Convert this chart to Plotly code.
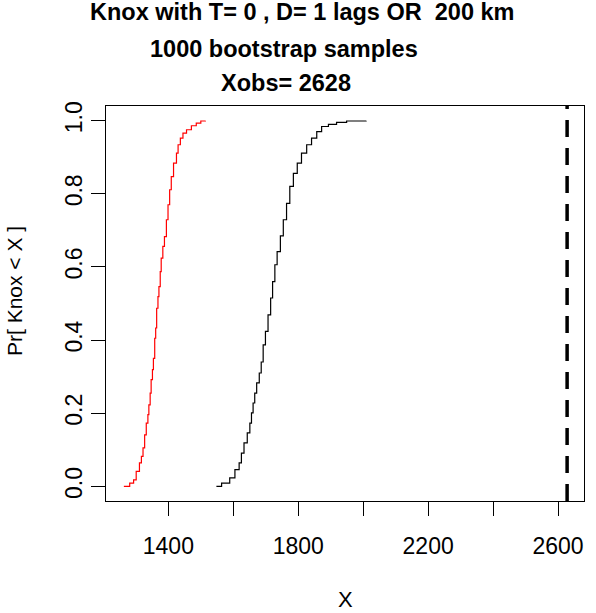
import plotly.graph_objects as go

# ECDF of bootstrap Knox statistics
red_x = [1263, 1281, 1293, 1301, 1311, 1317, 1322, 1327, 1332, 1337, 1340, 1344, 1347, 1351,
         1354, 1358, 1361, 1364, 1368, 1371, 1375, 1378, 1383, 1388, 1394, 1399, 1404, 1409,
         1416, 1425, 1430, 1437, 1445, 1456, 1471, 1486, 1500, 1514]
red_p = [0.0, 0.009, 0.018, 0.041, 0.064, 0.082, 0.105, 0.141, 0.173, 0.196, 0.223, 0.255, 0.292, 0.319,
         0.350, 0.405, 0.433, 0.487, 0.519, 0.546, 0.587, 0.624, 0.656, 0.683, 0.729, 0.770, 0.811, 0.847,
         0.884, 0.911, 0.934, 0.952, 0.966, 0.975, 0.986, 0.993, 0.999, 1.0]

black_x = [1548, 1564, 1574, 1589, 1605, 1618, 1625, 1633, 1643, 1651, 1656, 1661, 1666, 1672,
           1680, 1686, 1692, 1699, 1707, 1715, 1721, 1728, 1735, 1745, 1754, 1764, 1774, 1785,
           1797, 1810, 1826, 1841, 1857, 1872, 1893, 1918, 1949, 2009]
black_p = [0.0, 0.009, 0.009, 0.023, 0.046, 0.064, 0.091, 0.119, 0.146, 0.173, 0.201, 0.228, 0.255, 0.283,
           0.310, 0.340, 0.387, 0.424, 0.469, 0.515, 0.560, 0.606, 0.642, 0.685, 0.729, 0.774, 0.820, 0.856,
           0.884, 0.911, 0.934, 0.952, 0.970, 0.984, 0.990, 0.995, 0.999, 1.0]

x_obs = 2628

x_tickvals = [1400, 1600, 1800, 2000, 2200, 2400, 2600]
x_ticktext = ["1400", "", "1800", "", "2200", "", "2600"]
y_tickvals = [0.0, 0.2, 0.4, 0.6, 0.8, 1.0]
y_ticktext = ["0.0", "0.2", "0.4", "0.6", "0.8", "1.0"]

title_lines = ["Knox with T= 0 , D= 1 lags OR  200 km", "1000 bootstrap samples", "Xobs= 2628"]

FONT = "Liberation Sans, Arial, sans-serif"

fig = go.Figure()
fig.add_trace(go.Scatter(x=red_x, y=red_p, mode="lines", line=dict(color="red", width=1.2, shape="hv"),
                         showlegend=False, hoverinfo="skip"))
fig.add_trace(go.Scatter(x=black_x, y=black_p, mode="lines", line=dict(color="black", width=1.2, shape="hv"),
                         showlegend=False, hoverinfo="skip"))

fig.add_shape(type="line", xref="x", yref="paper", x0=x_obs, x1=x_obs, y0=0, y1=1,
              line=dict(color="black", width=3.5, dash="17px,11px"))

fig.update_layout(
    width=596, height=613,
    margin=dict(l=106, r=12, t=106, b=112, autoexpand=False),
    paper_bgcolor="white", plot_bgcolor="white",
    font=dict(family=FONT, color="black", size=22),
    xaxis=dict(range=[1208, 2680], tickvals=x_tickvals, ticktext=x_ticktext,
               ticks="outside", ticklen=14, tickwidth=1, tickcolor="black",
               showline=True, linecolor="black", linewidth=1, mirror=True,
               showgrid=False, zeroline=False, tickfont=dict(size=23),
               ticklabelstandoff=10, automargin=False),
    yaxis=dict(range=[-0.04, 1.04], tickvals=y_tickvals, ticktext=y_ticktext,
               ticks="outside", ticklen=14, tickwidth=1, tickcolor="black",
               showline=True, linecolor="black", linewidth=1, mirror=True,
               showgrid=False, zeroline=False, tickangle=-90, tickfont=dict(size=23),
               ticklabelstandoff=0, automargin=False),
)

for txt, xc, yc in zip(title_lines, [0.409, 0.372, 0.377], [1.238, 1.144, 1.057]):
    fig.add_annotation(text="<b>" + txt + "</b>", xref="paper", yref="paper", x=xc, y=yc,
                       xanchor="center", yanchor="middle", showarrow=False,
                       font=dict(size=23.5, family=FONT, color="black"))

fig.add_annotation(text="X", xref="paper", yref="paper", x=0.5, y=-0.2506,
                   xanchor="center", yanchor="middle", showarrow=False, font=dict(size=22))
fig.add_annotation(text="Pr[ Knox < X ]", xref="paper", yref="paper", x=-0.19, y=0.532,
                   xanchor="center", yanchor="middle", textangle=-90, showarrow=False, font=dict(size=21))

fig.write_html("out.html", config={"displayModeBar": False},
               post_script="document.body.style.margin='0';document.body.style.overflow='hidden';")
